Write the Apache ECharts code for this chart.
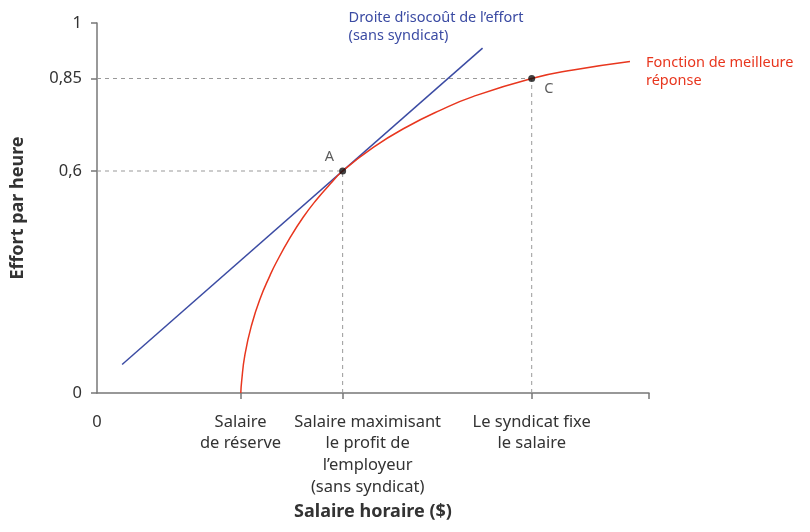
<!DOCTYPE html>
<html lang="fr">
<head>
    <meta charset="UTF-8">
    <title>Fonction de meilleure réponse</title>
    <script src="https://cdn.jsdelivr.net/npm/echarts@6/dist/echarts.min.js"></script>
    <style>
        html, body { margin: 0; padding: 0; background: #fff; }
    </style>
</head>
<body>
<div id="chart" style="width:810px; height:532px;"></div>
<script type="text/javascript">
    // salaire horaire (unités arbitraires) et effort par heure
    var bestResponseWage = [5.21, 5.24, 5.36, 5.61, 5.91, 6.27, 6.49, 6.99, 7.47, 7.96, 8.44, 8.9, 10.01, 11.22, 12.43, 13.62, 15.75, 17.25, 19.31];
    var bestResponseEffort = [0, 0.031, 0.104, 0.186, 0.255, 0.318, 0.352, 0.419, 0.475, 0.523, 0.564, 0.6, 0.664, 0.719, 0.764, 0.801, 0.85, 0.873, 0.896];

    var isocostWage = [0.91, 13.97];
    var isocostEffort = [0.077, 0.932];

    var pointNames = ['A', 'C'];
    var pointWage = [8.9, 15.75];
    var pointEffort = [0.6, 0.85];

    var wageTicks = [0, 5.2, 8.9, 15.75];
    var wageLabels = ['0', 'Salaire\nde réserve', 'Salaire maximisant\nle profit de\nl’employeur\n(sans syndicat)', 'Le syndicat fixe\nle salaire'];
    var effortTicks = [0, 0.6, 0.85, 1];
    var effortLabels = ['0', '0,6', '0,85', '1'];

    var font = 'Noto Sans';
    var textColor = '#333';
    var axisColor = '#777';
    var blue = '#3b4ba3';
    var red = '#e8361e';

    function pairs(xs, ys) {
        return xs.map(function (x, i) { return [x, ys[i]]; });
    }
    function findLabel(ticks, labels, v) {
        for (var i = 0; i < ticks.length; i++) {
            if (Math.abs(ticks[i] - v) < 1e-6) return labels[i];
        }
        return '';
    }

    // pointillés vers les axes
    var guides = [];
    pointWage.forEach(function (w, i) {
        guides.push([[0, pointEffort[i]], [w, pointEffort[i]]]);
        guides.push([[w, 0], [w, pointEffort[i]]]);
    });
    var guideSeries = guides.map(function (seg) {
        return {
            type: 'line',
            data: seg,
            symbol: 'none',
            silent: true,
            z: 1,
            lineStyle: { color: '#999', width: 1, type: [4, 4] }
        };
    });

    var chart = echarts.init(document.getElementById('chart'));
    chart.setOption({
        animation: false,
        grid: { left: 97, right: 161, top: 23, bottom: 139, containLabel: false, outerBoundsMode: 'none' },
        xAxis: {
            type: 'value',
            min: 0,
            max: 20,
            name: 'Salaire horaire ($)',
            nameLocation: 'middle',
            nameGap: 110,
            nameTextStyle: { fontFamily: font, fontSize: 18, fontWeight: 'bold', color: textColor },
            axisLine: { show: true, lineStyle: { color: axisColor, width: 1.5 } },
            axisTick: { show: true, length: 6, lineStyle: { color: axisColor, width: 1.5 }, customValues: [5.2, 8.9, 15.75, 20] },
            splitLine: { show: false },
            axisLabel: {
                customValues: wageTicks,
                margin: 18,
                fontFamily: font,
                fontSize: 16.5,
                lineHeight: 21.7,
                color: textColor,
                verticalAlign: 'top',
                formatter: function (v) {
                    var s = findLabel(wageTicks, wageLabels, v);
                    if (v === 8.9) {
                        return s.split('\n').map(function (l) { return '{m|' + l + '}'; }).join('\n');
                    }
                    return s;
                },
                rich: {
                    m: { padding: [0, 0, 0, 50], fontFamily: font, fontSize: 16.5, lineHeight: 21.7, color: textColor }
                }
            }
        },
        yAxis: {
            type: 'value',
            min: 0,
            max: 1,
            name: 'Effort par heure',
            nameLocation: 'middle',
            nameGap: 70,
            nameTextStyle: { fontFamily: font, fontSize: 18, fontWeight: 'bold', color: textColor },
            axisLine: { show: true, lineStyle: { color: axisColor, width: 1.5 } },
            axisTick: { show: true, length: 6, lineStyle: { color: axisColor, width: 1.5 }, customValues: effortTicks },
            splitLine: { show: false },
            axisLabel: {
                customValues: effortTicks,
                margin: 15,
                fontFamily: font,
                fontSize: 16.5,
                color: textColor,
                formatter: function (v) { return findLabel(effortTicks, effortLabels, v); }
            }
        },
        series: guideSeries.concat([
            {
                name: 'Droite d’isocoût de l’effort',
                type: 'line',
                data: pairs(isocostWage, isocostEffort),
                symbol: 'none',
                z: 3,
                lineStyle: { color: blue, width: 1.5 },
                endLabel: {
                    show: true,
                    formatter: 'Droite d’isocoût de l’effort\n(sans syndicat)',
                    distance: 0,
                    offset: [-134, -21],
                    align: 'left',
                    fontFamily: font,
                    fontSize: 14.5,
                    lineHeight: 18,
                    color: blue
                }
            },
            {
                name: 'Fonction de meilleure réponse',
                type: 'line',
                data: pairs(bestResponseWage, bestResponseEffort),
                smooth: 0.5,
                symbol: 'none',
                z: 4,
                lineStyle: { color: red, width: 1.5 },
                endLabel: {
                    show: true,
                    formatter: 'Fonction de meilleure\nréponse',
                    distance: 16,
                    offset: [0, 10],
                    align: 'left',
                    fontFamily: font,
                    fontSize: 14.5,
                    lineHeight: 18,
                    color: red
                }
            },
            {
                name: 'Points',
                type: 'scatter',
                data: pairs(pointWage, pointEffort).map(function (p, i) {
                    return {
                        value: p,
                        label: {
                            position: i === 0 ? 'left' : 'right',
                            offset: i === 0 ? [0, -14] : [4, 10]
                        }
                    };
                }),
                symbolSize: 7,
                z: 5,
                itemStyle: { color: '#111' },
                label: {
                    show: true,
                    formatter: function (p) { return pointNames[p.dataIndex]; },
                    fontFamily: font,
                    fontSize: 14.5,
                    color: textColor
                }
            }
        ])
    });
</script>
</body>
</html>
